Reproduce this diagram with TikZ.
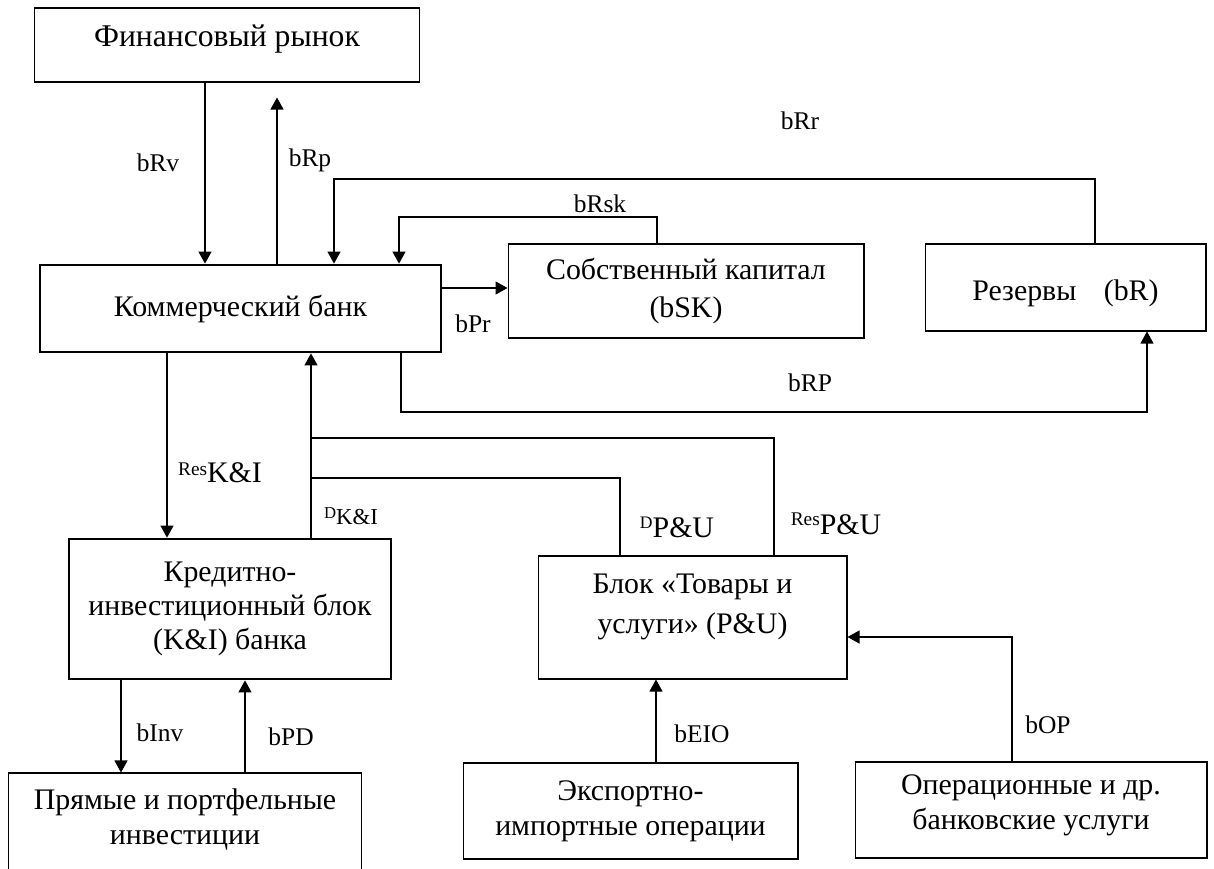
\documentclass[tikz,border=0pt]{standalone}
\usepackage{fontspec}
\setmainfont{Liberation Serif}
\usetikzlibrary{arrows.meta}

\begin{document}
\begin{tikzpicture}[x=0.02cm,y=-0.02cm,
  >={Triangle[length=2.4mm,width=2.6mm]},
  box/.style={draw,line width=0.6pt,align=center,inner sep=0pt,
    font=\fontsize{17}{20}\selectfont},
  thickbox/.style={box,line width=1.6pt},
  lab/.style={inner sep=0pt,font=\fontsize{14.5}{16}\selectfont},
  flow/.style={line width=0.6pt}]

\clip (0,0) rectangle (1214,869);

% Blocks
\node[box,minimum width=7.72cm,minimum height=1.48cm,text depth=0.36cm,
  font=\fontsize{18}{21}\selectfont] (fin) at (227,45) {Финансовый рынок};
\node[thickbox,minimum width=8.02cm,minimum height=1.74cm] (bank) at (240.5,308.5) {Коммерческий банк};
\node[box,minimum width=7.12cm,minimum height=1.88cm,font=\fontsize{17}{21.5}\selectfont] (cap) at (686,291) {Собственный капитал\\(bSK)};
\node[box,minimum width=5.62cm,minimum height=1.74cm,text height=0.63cm] (res) at (1065.5,287.5) {Резервы\hspace{0.55cm}(bR)};
\node[thickbox,minimum width=6.44cm,minimum height=2.80cm,font=\fontsize{17}{19.5}\selectfont] (ki) at (230,609) {Кредитно-\\инвестиционный блок\\(K\&I) банка};
\node[box,minimum width=7.08cm,minimum height=2.14cm,text depth=0.40cm] (inv) at (185,826.5) {Прямые и портфельные\\инвестиции};
\node[box,minimum width=6.18cm,minimum height=2.46cm,text depth=0.56cm,
  font=\fontsize{17}{22.7}\selectfont] (pu) at (692.5,617.5) {Блок «Товары и\\услуги» (P\&U)};
\node[box,minimum width=6.70cm,minimum height=1.92cm] (eio) at (630.5,811) {Экспортно-\\импортные операции};
\node[box,minimum width=7.04cm,minimum height=1.92cm,text depth=0.32cm] (op) at (1031,810) {Операционные и др.\\банковские услуги};

% Turning points
\coordinate (xRv) at (205,0);
\coordinate (xRp) at (277,0);
\coordinate (xRr) at (1095,0);
\coordinate (cRr) at (334,179);
\coordinate (xRsk) at (657,0);
\coordinate (cRsk) at (399,217);
\coordinate (yPr) at (0,288);
\coordinate (cRPa) at (401,412);
\coordinate (cRPb) at (1147,412);
\coordinate (xResKI) at (167,0);
\coordinate (xDKI) at (311,0);
\coordinate (cResPU) at (774,438);
\coordinate (cDPU) at (620,478);
\coordinate (xInv) at (121,0);
\coordinate (xPD) at (245,0);
\coordinate (xEIO) at (656,0);
\coordinate (cOP) at (1012,637);

% Flows of the bank
\draw[flow,->] (fin.south -| xRv) -- (bank.north -| xRv);
\draw[flow,->,shorten >=0.3cm] (bank.north -| xRp) -- (fin.south -| xRp);
\draw[flow,->] (res.north -| xRr) |- (cRr) -- (bank.north -| cRr);
\draw[flow,->] (cap.north -| xRsk) |- (cRsk) -- (bank.north -| cRsk);
\draw[flow,->] (bank.east |- yPr) -- (cap.west |- yPr);
\draw[flow,->] (bank.south -| cRPa) -- (cRPa) -- (cRPb) -- (res.south -| cRPb);

% Credit and investment block
\draw[flow,->] (bank.south -| xResKI) -- (ki.north -| xResKI);
\draw[flow,->] (ki.north -| xDKI) -- (bank.south -| xDKI);
\draw[flow] (pu.north -| cResPU) -- (cResPU) -- (cResPU -| xDKI);
\draw[flow] (pu.north -| cDPU) -- (cDPU) -- (cDPU -| xDKI);
\draw[flow,->] (ki.south -| xInv) -- (inv.north -| xInv);
\draw[flow,->] (inv.north -| xPD) -- (ki.south -| xPD);

% Goods and services
\draw[flow,->] (eio.north -| xEIO) -- (pu.south -| xEIO);
\draw[flow,->] (op.north -| cOP) -- (cOP) -- (pu.east |- cOP);

% Labels
\node[lab] (lRv) at (158,163) {bRv};
\node[lab] (lRp) at (310,160) {bRp};
\node[lab] (lRr) at (800,121) {bRr};
\node[lab] (lRsk) at (600,204) {bRsk};
\node[lab] (lPr) at (473,324) {bPr};
\node[lab] (lRP) at (810,383) {bRP};
\node[lab] (lResKI) at (220,473) {\raisebox{4pt}{\fontsize{11}{12}\selectfont Res}\fontsize{17}{18}\selectfont K\&I};
\node[lab] (lDKI) at (351,516) {\raisebox{3.4pt}{\fontsize{9.5}{10}\selectfont D}\fontsize{13}{14}\selectfont K\&I};
\node[lab] (lDPU) at (677,527) {\raisebox{5pt}{\fontsize{10}{11}\selectfont D}\fontsize{17}{18}\selectfont P\&U};
\node[lab] (lResPU) at (836,524) {\raisebox{5pt}{\fontsize{11}{12}\selectfont Res}\fontsize{17}{18}\selectfont P\&U};
\node[lab] (lInv) at (160,733) {bInv};
\node[lab] (lPD) at (291,737) {bPD};
\node[lab] (lEIO) at (702,734) {bEIO};
\node[lab] (lOP) at (1048,725) {bOP};

\end{tikzpicture}
\end{document}
